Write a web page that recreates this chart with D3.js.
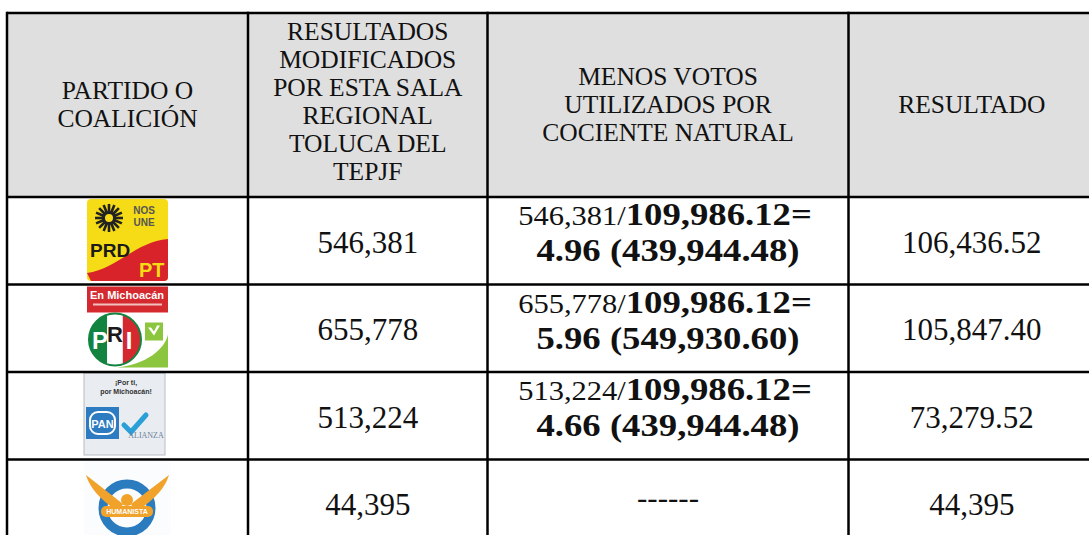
<!DOCTYPE html>
<html lang="es">
<head>
<meta charset="UTF-8">
<title>Cociente natural</title>
<script src="https://cdn.jsdelivr.net/npm/d3@7"></script>
<style>
body { margin: 0; background: #fff; }
text { font-family: "Liberation Serif", "Times New Roman", serif; fill: #111; }
.head { font-size: 25.5px; }
.val { font-size: 31px; }
.b { font-weight: bold; }
</style>
</head>
<body>
<svg width="1089" height="535"></svg>
<script>
// datos de la tabla
var headers = [
    ["PARTIDO O", "COALICIÓN"],
    ["RESULTADOS", "MODIFICADOS", "POR ESTA SALA", "REGIONAL", "TOLUCA DEL", "TEPJF"],
    ["MENOS VOTOS", "UTILIZADOS POR", "COCIENTE NATURAL"],
    ["RESULTADO"]
];
var partidos = ["PRD-PT", "PRI-PVEM", "PAN-PANAL", "PH"];
var votos = [546381, 655778, 513224, 44395];
var cociente = 109986.12;
var veces = [4.96, 5.96, 4.66, null];
var utilizados = [439944.48, 549930.60, 439944.48, null];
var resultado = [106436.52, 105847.40, 73279.52, 44395];

var svg = d3.select("svg");
var top0 = 13, headBottom = 197;

var col = d3.scaleOrdinal().domain(d3.range(4)).range([7, 248, 487.5, 848.5]);
var colEnd = d3.scaleOrdinal().domain(d3.range(4)).range([248, 487.5, 848.5, 1095]);
var mid = function(i) { return (col(i) + colEnd(i)) / 2; };
var row = d3.scaleBand().domain(d3.range(partidos.length)).range([headBottom, headBottom + 87.5 * partidos.length]);
var rc = function(i) { return row(i) + row.bandwidth() / 2; };

var fInt = d3.format(","), fDec = d3.format(",.2f");
var fmt = function(v) { return Number.isInteger(v) ? fInt(v) : fDec(v); };

// encabezado
svg.append("rect").attr("x", 7).attr("y", top0).attr("width", 1095).attr("height", headBottom - top0).attr("fill", "#dfdfdf");

headers.forEach(function(lines, c) {
    var n = lines.length;
    var start = n > 4 ? 39.5 : 112.5 - (n - 1) * 14;
    var t = svg.append("text").attr("class", "head").attr("text-anchor", "middle");
    lines.forEach(function(l, k) {
        t.append("tspan").attr("x", mid(c)).attr("y", start + k * 28).text(l);
    });
});

// filas
var g = svg.selectAll("g.row").data(partidos).enter().append("g").attr("class", "row");

g.append("text").attr("class", "val").attr("text-anchor", "middle")
    .attr("x", mid(1)).attr("y", function(d, i) { return rc(i) + 12; })
    .text(function(d, i) { return fInt(votos[i]); });

g.append("text").attr("class", "val").attr("text-anchor", "middle")
    .attr("x", mid(3)).attr("y", function(d, i) { return rc(i) + 12; })
    .text(function(d, i) { return fmt(resultado[i]); });

// el texto en negritas del original sale algo ensanchado
var ancho = 1.13;
g.each(function(d, i) {
    var s = d3.select(this);
    if (veces[i] == null) {
        s.append("text").attr("class", "val").attr("text-anchor", "middle")
            .attr("x", mid(2)).attr("y", rc(i) + 5).text("------");
        return;
    }
    var t1 = s.append("text").attr("text-anchor", "middle")
        .attr("transform", "translate(" + (mid(2) - 3) + "," + (rc(i) - 15.5) + ") scale(" + ancho + ",1)");
    t1.append("tspan").style("font-size", "27px").text(fInt(votos[i]) + "/");
    t1.append("tspan").attr("class", "b").style("font-size", "32.5px").text(fDec(cociente) + "=");
    s.append("text").attr("class", "b").style("font-size", "32.5px").attr("text-anchor", "middle")
        .attr("transform", "translate(" + mid(2) + "," + (rc(i) + 20.5) + ") scale(" + ancho + ",1)")
        .text(veces[i].toFixed(2) + " (" + fDec(utilizados[i]) + ")");
});

// logotipos
function logoPRD(s, x, y) {
    s.append("rect").attr("x", x).attr("y", y).attr("width", 81).attr("height", 82).attr("rx", 4).attr("fill", "#f6dc16");
    s.append("path").attr("fill", "#d8232a")
        .attr("d", "M" + x + "," + (y + 74) + " C" + (x + 30) + "," + (y + 70) + " " + (x + 50) + "," + (y + 42) + " " + (x + 81) + "," + (y + 40)
            + " L" + (x + 81) + "," + (y + 78) + " Q" + (x + 81) + "," + (y + 82) + " " + (x + 77) + "," + (y + 82) + " L" + (x + 4) + "," + (y + 82) + " Z");
    var cx = x + 22, cy = y + 19;
    d3.range(16).forEach(function(k) {
        var a = k * Math.PI / 8;
        s.append("line").attr("x1", cx + Math.cos(a) * 6).attr("y1", cy + Math.sin(a) * 6)
            .attr("x2", cx + Math.cos(a) * 14).attr("y2", cy + Math.sin(a) * 14)
            .attr("stroke", "#222").attr("stroke-width", 2.6);
    });
    s.append("circle").attr("cx", cx).attr("cy", cy).attr("r", 5.5).attr("fill", "#f6dc16").attr("stroke", "#222").attr("stroke-width", 3);
    s.append("text").attr("x", x + 57).attr("y", y + 15).attr("text-anchor", "middle")
        .style("font", "bold 10px 'Liberation Sans'").style("fill", "#555").text("NOS");
    s.append("text").attr("x", x + 57).attr("y", y + 27).attr("text-anchor", "middle")
        .style("font", "bold 10px 'Liberation Sans'").style("fill", "#555").text("UNE");
    s.append("text").attr("x", x + 3).attr("y", y + 58)
        .style("font", "bold 19px 'Liberation Sans'").style("fill", "#1a1a1a").text("PRD");
    s.append("text").attr("x", x + 52).attr("y", y + 78)
        .style("font", "bold 20px 'Liberation Sans'").style("fill", "#f6dc16").text("PT");
}

function logoPRI(s, x, y) {
    s.append("rect").attr("x", x).attr("y", y).attr("width", 81).attr("height", 81).attr("fill", "#fff");
    s.append("rect").attr("x", x).attr("y", y).attr("width", 81).attr("height", 26).attr("fill", "#d42a2f");
    s.append("text").attr("x", x + 40).attr("y", y + 12).attr("text-anchor", "middle")
        .style("font", "bold 11px 'Liberation Sans'").style("fill", "#fff").text("En Michoacán");
    s.append("rect").attr("x", x + 6).attr("y", y + 17).attr("width", 69).attr("height", 2).attr("fill", "#f3c0c0");
    s.append("path").attr("fill", "#8cc63f")
        .attr("d", "M" + (x + 30) + "," + (y + 81) + " C" + (x + 60) + "," + (y + 78) + " " + (x + 78) + "," + (y + 62) + " " + (x + 81) + "," + (y + 48)
            + " L" + (x + 81) + "," + (y + 81) + " Z");
    s.append("rect").attr("x", x + 58).attr("y", y + 36).attr("width", 18).attr("height", 18).attr("fill", "#8cc63f");
    s.append("path").attr("fill", "#fff").attr("d", "M" + (x + 61) + "," + (y + 41) + " l6,8 l6,-10 l-3,0 l-3,6 l-3,-4 z");
    var cx = x + 28, cy = y + 53, r = 26;
    s.append("clipPath").attr("id", "cpri").append("circle").attr("cx", cx).attr("cy", cy).attr("r", r);
    var cp = s.append("g").attr("clip-path", "url(#cpri)");
    cp.append("rect").attr("x", cx - r).attr("y", cy - r).attr("width", r * 0.7).attr("height", 2 * r).attr("fill", "#13843f");
    cp.append("rect").attr("x", cx - r * 0.3).attr("y", cy - r).attr("width", r * 0.6).attr("height", 2 * r).attr("fill", "#fff");
    cp.append("rect").attr("x", cx + r * 0.3).attr("y", cy - r).attr("width", r * 0.7).attr("height", 2 * r).attr("fill", "#d42a2f");
    s.append("circle").attr("cx", cx).attr("cy", cy).attr("r", r).attr("fill", "none").attr("stroke", "#13843f").attr("stroke-width", 2);
    s.append("text").attr("x", cx - 15).attr("y", cy + 9).attr("text-anchor", "middle")
        .style("font", "bold 24px 'Liberation Sans'").style("fill", "#fff").text("P");
    s.append("text").attr("x", cx).attr("y", cy + 2).attr("text-anchor", "middle")
        .style("font", "bold 22px 'Liberation Sans'").style("fill", "#1a1a1a").text("R");
    s.append("text").attr("x", cx + 14).attr("y", cy + 9).attr("text-anchor", "middle")
        .style("font", "bold 24px 'Liberation Sans'").style("fill", "#fff").text("I");
}

function logoPAN(s, x, y) {
    s.append("rect").attr("x", x).attr("y", y).attr("width", 81).attr("height", 82).attr("fill", "#e9edf1").attr("stroke", "#b8bcc2").attr("stroke-width", 1);
    s.append("text").attr("x", x + 42).attr("y", y + 12).attr("text-anchor", "middle")
        .style("font", "bold 7px 'Liberation Sans'").style("fill", "#333").text("¡Por ti,");
    s.append("text").attr("x", x + 42).attr("y", y + 21).attr("text-anchor", "middle")
        .style("font", "bold 7px 'Liberation Sans'").style("fill", "#333").text("por Michoacán!");
    s.append("rect").attr("x", x + 2).attr("y", y + 34).attr("width", 33).attr("height", 32).attr("fill", "#2d7cc1");
    s.append("rect").attr("x", x + 6).attr("y", y + 39).attr("width", 25).attr("height", 22).attr("rx", 8)
        .attr("fill", "none").attr("stroke", "#fff").attr("stroke-width", 2);
    s.append("text").attr("x", x + 18.5).attr("y", y + 55).attr("text-anchor", "middle")
        .style("font", "bold 11px 'Liberation Sans'").style("fill", "#fff").text("PAN");
    s.append("path").attr("fill", "none").attr("stroke", "#2a9fd8").attr("stroke-width", 5).attr("stroke-linecap", "round")
        .attr("d", "M" + (x + 40) + "," + (y + 52) + " L" + (x + 47) + "," + (y + 59) + " L" + (x + 62) + "," + (y + 42));
    s.append("text").attr("x", x + 62).attr("y", y + 65).attr("text-anchor", "middle")
        .style("font", "8px 'Liberation Serif'").style("fill", "#6a7f99").text("ALIANZA");
}

function logoPH(s, x, y) {
    s.append("rect").attr("x", x).attr("y", y).attr("width", 87).attr("height", 75).attr("fill", "#fbfcfd");
    var cx = x + 43, cy = y + 47;
    s.append("circle").attr("cx", cx).attr("cy", cy).attr("r", 24).attr("fill", "none").attr("stroke", "#2b7bbf").attr("stroke-width", 9);
    s.append("path").attr("fill", "#f0a22a")
        .attr("d", "M" + (cx - 4) + "," + (cy - 4) + " L" + (x + 2) + "," + (y + 14) + " Q" + (x + 8) + "," + (y + 34) + " " + (cx - 8) + "," + (cy + 4) + " Z");
    s.append("path").attr("fill", "#f0a22a")
        .attr("d", "M" + (cx + 4) + "," + (cy - 4) + " L" + (x + 85) + "," + (y + 14) + " Q" + (x + 79) + "," + (y + 34) + " " + (cx + 8) + "," + (cy + 4) + " Z");
    s.append("circle").attr("cx", cx).attr("cy", cy - 8).attr("r", 6).attr("fill", "#f0a22a");
    s.append("rect").attr("x", cx - 26).attr("y", cy - 2).attr("width", 52).attr("height", 11).attr("rx", 5).attr("fill", "#f0a22a");
    s.append("text").attr("x", cx).attr("y", cy + 6).attr("text-anchor", "middle")
        .style("font", "bold 7px 'Liberation Sans'").style("fill", "#fff").text("HUMANISTA");
}

var logos = [logoPRD, logoPRI, logoPAN, logoPH];
var logoOff = [[-41, 2], [-41, 1.5], [-44, 1], [-44, 1]];
g.each(function(d, i) {
    logos[i](d3.select(this), Math.round(mid(0)) + logoOff[i][0], Math.round(row(i)) + logoOff[i][1]);
});

// rejilla
var hl = [top0, headBottom].concat(d3.range(1, partidos.length).map(function(i) { return row(i); }));
svg.selectAll("line.h").data(hl).enter().append("line").attr("class", "h")
    .attr("x1", 7).attr("x2", 1089).attr("y1", function(d) { return d; }).attr("y2", function(d) { return d; })
    .attr("stroke", "#000").attr("stroke-width", 2.5);
svg.selectAll("line.v").data(d3.range(4)).enter().append("line").attr("class", "v")
    .attr("x1", function(d) { return col(d); }).attr("x2", function(d) { return col(d); })
    .attr("y1", top0 - 1.25).attr("y2", 535)
    .attr("stroke", "#000").attr("stroke-width", 2.5);
</script>
</body>
</html>
